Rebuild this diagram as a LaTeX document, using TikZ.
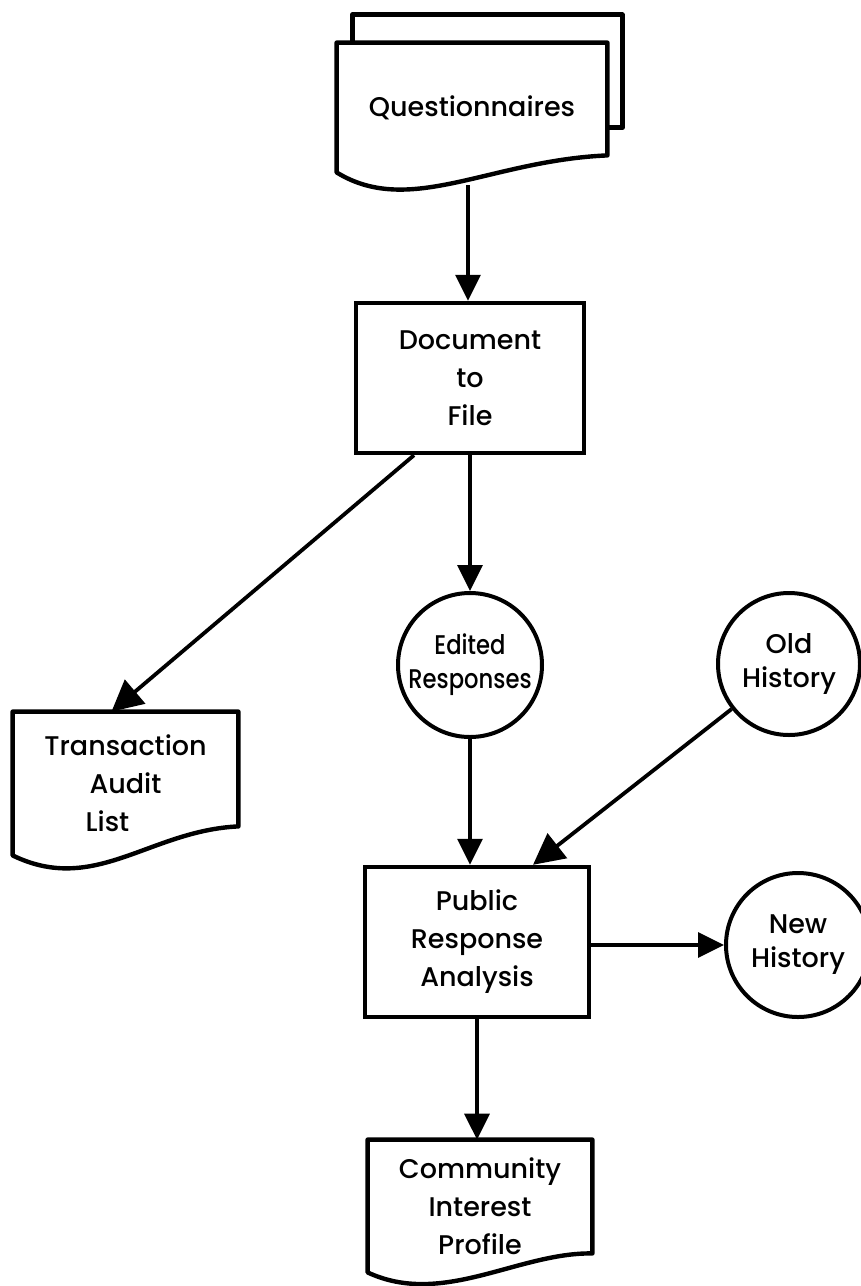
\documentclass[tikz,border=0pt]{standalone}
\usepackage{fontspec}
\setmainfont{Poppins}[UprightFont={* Medium}]
\usetikzlibrary{arrows.meta}
\begin{document}
\begin{tikzpicture}[x=0.5pt,y=-0.5pt,
  every node/.style={font=\fontsize{13.5}{19}\selectfont, align=center},
  boxnode/.style={rectangle, draw, line width=2.2pt, inner sep=0pt},
  docnode/.style={rectangle, inner sep=0pt},
  store/.style={circle, draw, line width=2pt, minimum size=72pt, inner sep=0pt,
                font=\fontsize{13.5}{17}\selectfont},
  sheet/.style={line width=2.2pt, line join=round},
  flow/.style={line width=1.7pt, -{Triangle[length=13pt,width=12.5pt]}},
  flowbig/.style={line width=1.9pt, -{Triangle[length=15.5pt,width=15.5pt]}}]
\useasboundingbox (0,0) rectangle (861,1286);

% nodes
\node[docnode, minimum width=135pt, minimum height=64.5pt] (q) at (472,107.5) {Questionnaires};
\node[boxnode, minimum width=114pt, minimum height=75pt] (d) at (470,378) {Document\\to\\File};
\node[store, font=\fontsize{13.5}{17}\selectfont\addfontfeatures{FakeStretch=0.84}] (e) at (470,665)
  {Edited\\Responses};
\node[store, minimum size=71pt] (o) at (789,664) {Old\\History};
\node[docnode, minimum width=112.5pt, minimum height=71.5pt] (t) at (125.5,783.5)
  {Transaction\\Audit\hspace*{17pt}\\List\hspace*{18pt}};
\node[boxnode, minimum width=112pt, minimum height=75pt] (p) at (477,942) {Public\\Response\\Analysis};
\node[store] (n) at (798,945) {New\\History};
\node[docnode, minimum width=112pt, minimum height=66pt] (c) at (480,1206) {Community\\Interest\\Profile};

% document outlines: a stacked pair of sheets and two single sheets
\draw[sheet] ([shift={(16,0)}]q.north west) -- ++(0,-28)
  -- ([shift={(15,-28)}]q.north east) -- ([shift={(15,85)}]q.north east)
  -- ([shift={(0,85)}]q.north east);
\draw[sheet] (q.north west) -- (q.north east) -- ([shift={(0,-17)}]q.south east)
  .. controls ([shift={(153,-12)}]q.south west) and ([shift={(73,45)}]q.south west)
  .. (q.south west) -- cycle;
\draw[sheet] (t.north west) -- (t.north east) -- ([shift={(0,-29)}]t.south east)
  .. controls ([shift={(137,-25)}]t.south west) and ([shift={(82,40)}]t.south west)
  .. (t.south west) -- cycle;
\draw[sheet] (c.north west) -- (c.north east) -- ([shift={(0,-19)}]c.south east)
  .. controls ([shift={(150,-20)}]c.south west) and ([shift={(75,35)}]c.south west)
  .. (c.south west) -- cycle;

% connectors
\coordinate (qtail) at ([shift={(-4,13)}]q.south);
\draw[flow] (qtail) -- (qtail |- d.north);
\draw[flow] (d.south) -- (e.north);
\draw[flowbig] ([shift={(-56,0)}]d.south) -- ([shift={(-14,0)}]t.north);
\draw[flow] (e.south) -- (e.south |- p.north);
\draw[flowbig] (o) -- ([shift={(56,0)}]p.north);
\draw[flow] (p.east |- n.west) -- (n.west);
\draw[flow] (p.south) -- (p.south |- c.north);
\end{tikzpicture}
\end{document}
